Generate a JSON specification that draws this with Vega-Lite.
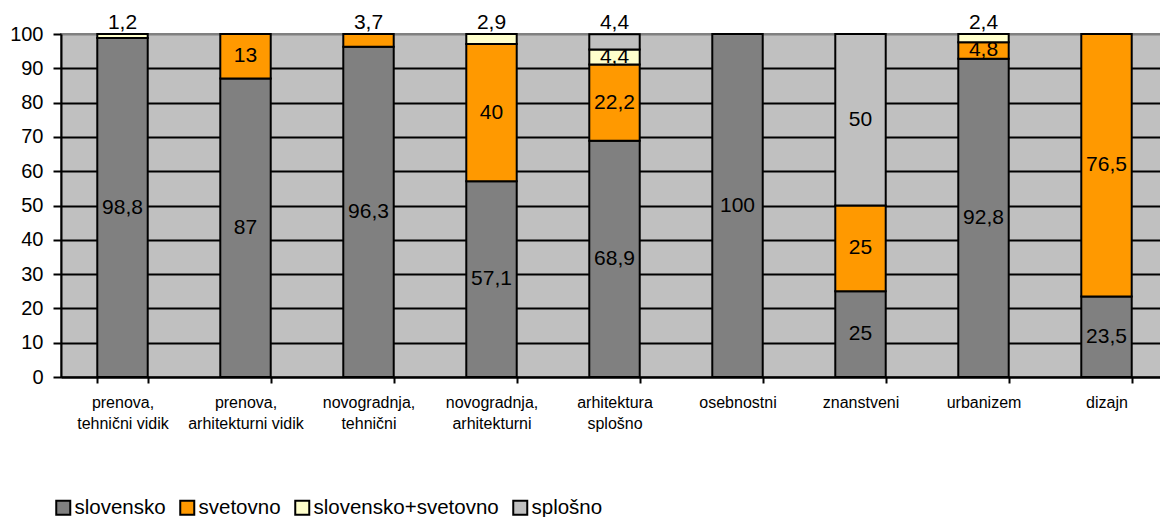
{
  "$schema": "https://vega.github.io/schema/vega-lite/v6.json",
  "width": 1107,
  "height": 343,
  "autosize": {"type": "none"},
  "padding": {"left": 61, "top": 34, "right": 0, "bottom": 140},
  "background": "white",
  "config": {
    "view": {"fill": "#C0C0C0", "stroke": "#808080", "strokeWidth": 2},
    "font": "Liberation Sans",
    "axisX": {
      "title": null, "labelAngle": 0, "tickBand": "extent",
      "domainColor": "black", "domainWidth": 2,
      "tickColor": "black", "tickWidth": 2, "tickSize": 6,
      "labelFontSize": 16, "labelColor": "black", "labelLineHeight": 21, "labelPadding": 11,
      "labelBaseline": "top", "labelOverlap": false
    },
    "axisY": {
      "title": null, "labelOverlap": false, "grid": true, "gridWidth": 2,
      "domainColor": "black", "domainWidth": 2,
      "tickColor": "black", "tickWidth": 2, "tickSize": 8,
      "labelFontSize": 20, "labelColor": "black", "labelPadding": 10
    }
  },
  "data": {
    "values": [
      {"kategorija": "prenova, tehnični vidik", "serija": "slovensko", "delez": 98.8},
      {"kategorija": "prenova, tehnični vidik", "serija": "slovensko+svetovno", "delez": 1.2},
      {"kategorija": "prenova, arhitekturni vidik", "serija": "slovensko", "delez": 87},
      {"kategorija": "prenova, arhitekturni vidik", "serija": "svetovno", "delez": 13},
      {"kategorija": "novogradnja, tehnični", "serija": "slovensko", "delez": 96.3},
      {"kategorija": "novogradnja, tehnični", "serija": "svetovno", "delez": 3.7},
      {"kategorija": "novogradnja, arhitekturni", "serija": "slovensko", "delez": 57.1},
      {"kategorija": "novogradnja, arhitekturni", "serija": "svetovno", "delez": 40},
      {"kategorija": "novogradnja, arhitekturni", "serija": "slovensko+svetovno", "delez": 2.9},
      {"kategorija": "arhitektura splošno", "serija": "slovensko", "delez": 68.9},
      {"kategorija": "arhitektura splošno", "serija": "svetovno", "delez": 22.2},
      {"kategorija": "arhitektura splošno", "serija": "slovensko+svetovno", "delez": 4.4},
      {"kategorija": "arhitektura splošno", "serija": "splošno", "delez": 4.4},
      {"kategorija": "osebnostni", "serija": "slovensko", "delez": 100},
      {"kategorija": "znanstveni", "serija": "slovensko", "delez": 25},
      {"kategorija": "znanstveni", "serija": "svetovno", "delez": 25},
      {"kategorija": "znanstveni", "serija": "splošno", "delez": 50},
      {"kategorija": "urbanizem", "serija": "slovensko", "delez": 92.8},
      {"kategorija": "urbanizem", "serija": "svetovno", "delez": 4.8},
      {"kategorija": "urbanizem", "serija": "slovensko+svetovno", "delez": 2.4},
      {"kategorija": "dizajn", "serija": "slovensko", "delez": 23.5},
      {"kategorija": "dizajn", "serija": "svetovno", "delez": 76.5}
    ]
  },
  "transform": [
    {"calculate": "indexof(['slovensko','svetovno','slovensko+svetovno','splošno'], datum.serija)", "as": "k"},
    {"stack": "delez", "groupby": ["kategorija"], "sort": [{"field": "k", "order": "ascending"}], "as": ["y0", "y1"]},
    {"calculate": "datum.y1 > 99.9 && datum.delez < 5 ? 103.3 : (datum.y0 + datum.y1) / 2", "as": "ly"},
    {"calculate": "replace(toString(datum.delez), '.', ',')", "as": "lbl"}
  ],
  "encoding": {
    "x": {
      "field": "kategorija", "type": "nominal", "sort": null,
      "scale": {"paddingInner": 0.59, "paddingOuter": 0.295},
      "axis": {
        "labelExpr": "split(replace(replace(datum.label, ', ', ',|'), 'arhitektura splošno', 'arhitektura|splošno'), '|')"
      }
    }
  },
  "layer": [
    {
      "mark": {"type": "bar", "stroke": "black", "strokeWidth": 2},
      "encoding": {
        "y": {
          "field": "y0", "type": "quantitative",
          "scale": {"domain": [0, 100]},
          "axis": {
            "values": [0, 10, 20, 30, 40, 50, 60, 70, 80, 90, 100],
            "gridColor": {"condition": {"test": "datum.value == 100", "value": "#808080"}, "value": "black"}
          }
        },
        "y2": {"field": "y1"},
        "color": {
          "field": "serija", "type": "nominal",
          "scale": {
            "domain": ["slovensko", "svetovno", "slovensko+svetovno", "splošno"],
            "range": ["#808080", "#FF9900", "#FFFFCC", "#C0C0C0"]
          },
          "legend": {
            "orient": "none", "legendX": -8, "legendY": 463, "direction": "horizontal",
            "title": null, "symbolType": "square", "symbolSize": 196,
            "symbolStrokeColor": "black", "symbolStrokeWidth": 2, "symbolOpacity": 1,
            "labelFontSize": 20.5, "labelColor": "black", "labelOffset": 1, "labelLimit": 400,
            "columnPadding": 10, "padding": 0
          }
        }
      }
    },
    {
      "mark": {"type": "text", "fontSize": 21, "baseline": "middle", "align": "center", "color": "black"},
      "encoding": {
        "y": {
          "field": "ly", "type": "quantitative",
          "axis": {
            "values": [0, 10, 20, 30, 40, 50, 60, 70, 80, 90, 100],
            "gridColor": {"condition": {"test": "datum.value == 100", "value": "#808080"}, "value": "black"}
          }
        },
        "text": {"field": "lbl"}
      }
    }
  ]
}
